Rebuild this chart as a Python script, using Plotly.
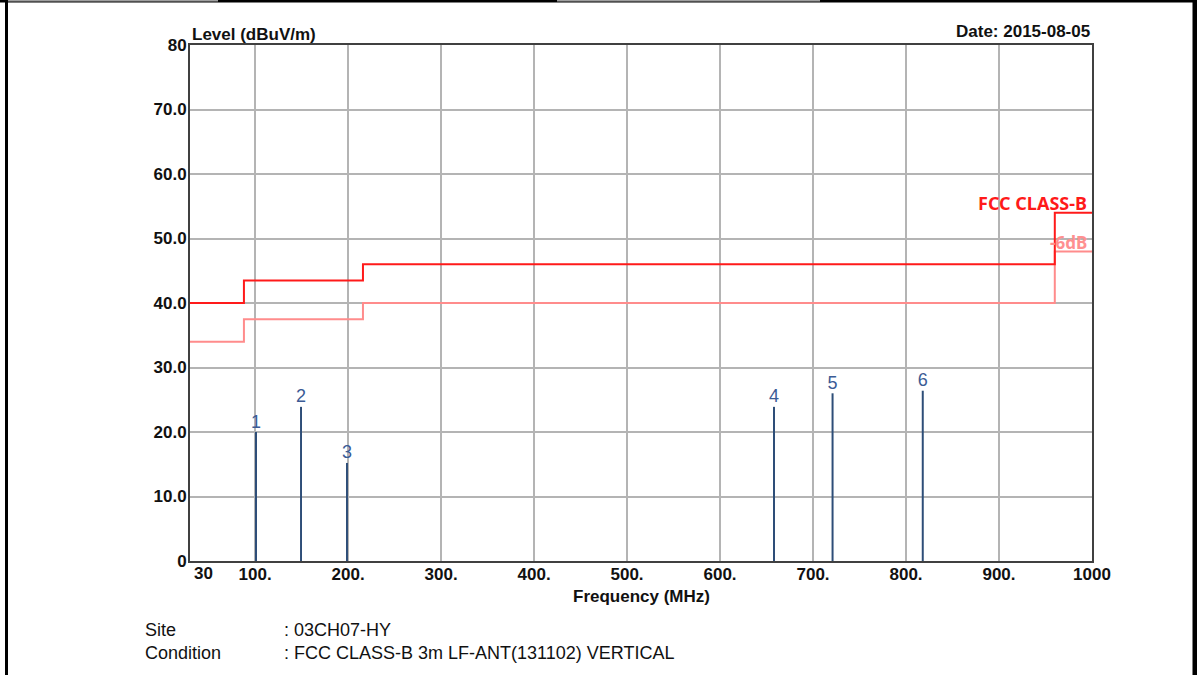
import plotly.graph_objects as go

# ---- data ----
limit_freq = [30, 88, 88, 216, 216, 960, 960, 1000]
limit_fcc = [40, 40, 43.5, 43.5, 46, 46, 54, 54]
limit_6db = [34, 34, 37.5, 37.5, 40, 40, 48, 48]

peak_labels = ["1", "2", "3", "4", "5", "6"]
peak_freq = [101, 149.4, 198.8, 658, 721, 818]
peak_level = [20.0, 23.9, 15.2, 23.9, 26.0, 26.4]

x_min_label = "30"
x_tickvals = [100, 200, 300, 400, 500, 600, 700, 800, 900, 1000]
x_ticktext = ["100.", "200.", "300.", "400.", "500.", "600.", "700.", "800.", "900.", "1000"]
y_tickvals = [0, 10, 20, 30, 40, 50, 60, 70, 80]
y_ticktext = ["0", "10.0", "20.0", "30.0", "40.0", "50.0", "60.0", "70.0", "80"]

W, H = 1197, 675
L, R, T, B = 190, 1092, 45, 561
FONT = "Liberation Sans, Arial, sans-serif"

def px(x):
    return (x - L) / (R - L)

def py(y):
    return (B - y) / (B - T)

fig = go.Figure()

# limit lines
fig.add_trace(go.Scatter(x=limit_freq, y=limit_6db, mode="lines",
                         line=dict(color="#FF8C8C", width=2), showlegend=False, hoverinfo="skip"))
fig.add_trace(go.Scatter(x=limit_freq, y=limit_fcc, mode="lines",
                         line=dict(color="#FF1A1A", width=2), showlegend=False, hoverinfo="skip"))

# peak lines
for f, lv in zip(peak_freq, peak_level):
    fig.add_trace(go.Scatter(x=[f, f], y=[0, lv], mode="lines",
                             line=dict(color="#2E4E78", width=2), showlegend=False, hoverinfo="skip"))

# peak labels
fig.add_trace(go.Scatter(x=peak_freq, y=peak_level, mode="text", text=peak_labels,
                         textposition="top center",
                         textfont=dict(family=FONT, size=18, color="#3B5B95"),
                         showlegend=False, hoverinfo="skip"))

tickfont = dict(family=FONT, size=17, color="#111111", weight=700)

fig.update_xaxes(range=[30, 1000], tickvals=x_tickvals, ticktext=x_ticktext,
                 showgrid=True, gridcolor="#B4B4B4", gridwidth=1.5,
                 showline=True, linecolor="#404040", linewidth=2, mirror=True,
                 zeroline=False, tickfont=tickfont, ticks="", ticklabelstandoff=-3)
fig.update_yaxes(range=[0, 80], tickvals=y_tickvals, ticktext=y_ticktext,
                 showgrid=True, gridcolor="#B4B4B4", gridwidth=1.5,
                 showline=True, linecolor="#404040", linewidth=2, mirror=True,
                 zeroline=False, tickfont=tickfont, ticks="", ticklabelstandoff=-2)

annotations = [
    dict(x=30, y=0, xref="x", yref="paper", xanchor="left", yanchor="middle",
         text=x_min_label, showarrow=False, xshift=2, yshift=-12,
         font=tickfont),
    dict(x=0, y=1, xref="paper", yref="paper", xanchor="left", yanchor="bottom",
         text="Level (dBuV/m)", showarrow=False, yshift=-1,
         font=dict(family=FONT, size=17, color="#111111", weight=700)),
    dict(x=1, y=1, xref="paper", yref="paper", xanchor="right", yanchor="bottom",
         text="Date: 2015-08-05", showarrow=False, yshift=2,
         font=dict(family=FONT, size=17, color="#111111", weight=700)),
    dict(x=0.5, y=py(596), xref="paper", yref="paper", xanchor="center", yanchor="middle",
         text="Frequency (MHz)", showarrow=False,
         font=dict(family=FONT, size=17, color="#111111", weight=700)),
    dict(x=px(1089), y=py(203), xref="paper", yref="paper", xanchor="right", yanchor="middle",
         text="FCC CLASS-B", showarrow=False,
         font=dict(family="Noto Sans, sans-serif", size=18, color="#FF1A1A", weight=700)),
    dict(x=px(1089), y=py(242), xref="paper", yref="paper", xanchor="right", yanchor="middle",
         text="-6dB", showarrow=False,
         font=dict(family="Noto Sans, sans-serif", size=17, color="#FF9090", weight=700)),
    dict(x=px(143), y=py(630), xref="paper", yref="paper", xanchor="left", yanchor="middle",
         text="Site", showarrow=False, font=dict(family=FONT, size=18, color="#111111")),
    dict(x=px(282), y=py(630), xref="paper", yref="paper", xanchor="left", yanchor="middle",
         text=": 03CH07-HY", showarrow=False, font=dict(family=FONT, size=18, color="#111111")),
    dict(x=px(143), y=py(653), xref="paper", yref="paper", xanchor="left", yanchor="middle",
         text="Condition", showarrow=False, font=dict(family=FONT, size=18, color="#111111")),
    dict(x=px(282), y=py(653), xref="paper", yref="paper", xanchor="left", yanchor="middle",
         text=": FCC CLASS-B 3m LF-ANT(131102) VERTICAL", showarrow=False,
         font=dict(family=FONT, size=18, color="#111111")),
]

shapes = [
    # page frame
    dict(type="rect", xref="paper", yref="paper", x0=px(5), x1=px(8), y0=py(676), y1=py(0),
         fillcolor="black", line=dict(width=0)),
    dict(type="rect", xref="paper", yref="paper", x0=px(1192.5), x1=px(1197), y0=py(676), y1=py(0),
         fillcolor="black", line=dict(width=0)),
    dict(type="rect", xref="paper", yref="paper", x0=px(0), x1=px(1197), y0=py(2.5), y1=py(0),
         fillcolor="black", line=dict(width=0)),
    dict(type="rect", xref="paper", yref="paper", x0=px(8), x1=px(218), y0=py(1.5), y1=py(0),
         fillcolor="#A0A0A0", line=dict(width=0)),
    dict(type="rect", xref="paper", yref="paper", x0=px(557), x1=px(820), y0=py(1.5), y1=py(0),
         fillcolor="#A0A0A0", line=dict(width=0)),
]

fig.update_layout(
    width=W, height=H,
    margin=dict(l=L, r=W - R, t=T, b=H - B, pad=0),
    paper_bgcolor="white", plot_bgcolor="white",
    annotations=annotations, shapes=shapes,
    showlegend=False,
)

fig.write_html("out.html", config={"displayModeBar": False},
               post_script="document.body.style.margin='0';document.body.style.overflow='hidden';")
